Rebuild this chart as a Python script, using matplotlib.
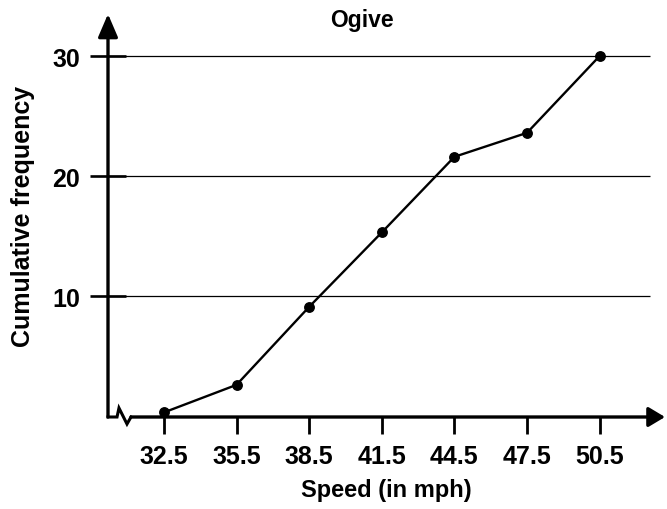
import matplotlib
matplotlib.use("Agg")
import matplotlib.pyplot as plt

speeds = [32.5, 35.5, 38.5, 41.5, 44.5, 47.5, 50.5]
cum_freq = [0.3, 2.6, 9.1, 15.3, 21.6, 23.6, 30]
y_ticks = [10, 20, 30]
x_tick_labels = ["32.5", "35.5", "38.5", "41.5", "44.5", "47.5", "50.5"]

plt.rcParams['font.family'] = ['Liberation Sans', 'DejaVu Sans']
plt.rcParams['font.weight'] = 'bold'

fig = plt.figure(figsize=(6.67, 5.10), dpi=100)
ax = fig.add_axes([108/667, 1-418/510, 557/667, 403/510])
ax.set_xlim(30.19, 53.2)
ax.set_ylim(-0.08, 33.5)
for s in ax.spines.values():
    s.set_visible(False)

# gridlines
ax.hlines(y_ticks, 30.19, 52.6, color='black', lw=0.9, zorder=1)

# y axis with arrow
ax.annotate('', xy=(0, 1), xytext=(0, 0), xycoords='axes fraction',
            textcoords='axes fraction',
            arrowprops=dict(arrowstyle='-|>,head_length=0.7,head_width=0.3', lw=2.4,
                            color='black', mutation_scale=20, shrinkA=0, shrinkB=0),
            annotation_clip=False)
# x axis with break zigzag and arrow
zx = [0, 0.0162, 0.0197, 0.0341, 0.0413]
zy = [0, 0, 0.0223, -0.0174, 0]
ax.plot(zx, zy, color='black', lw=2.2, transform=ax.transAxes, clip_on=False,
        solid_joinstyle='miter')
ax.annotate('', xy=(1, 0), xytext=(0.0413, 0), xycoords='axes fraction',
            textcoords='axes fraction',
            arrowprops=dict(arrowstyle='-|>,head_length=0.5,head_width=0.3', lw=2.4,
                            color='black', mutation_scale=20, shrinkA=0, shrinkB=0),
            annotation_clip=False)

ax.plot(speeds, cum_freq, color='black', lw=1.7, marker='o', markersize=6.8, zorder=3,
        clip_on=False)

ax.set_xticks(speeds)
ax.set_xticklabels(x_tick_labels)
ax.set_yticks(y_ticks)
ax.set_yticklabels([str(v) for v in y_ticks])
ax.tick_params(axis='x', direction='out', length=12.5, width=2, pad=7, labelsize=18)
ax.tick_params(axis='y', direction='inout', length=26.5, width=1.9, pad=7, labelsize=18)

ax.set_xlabel('Speed (in mph)', fontsize=17, fontweight='bold', labelpad=7)
ax.set_ylabel('Cumulative frequency', fontsize=18, fontweight='bold', labelpad=12)
fig.text(362/667, 1-20/510, 'Ogive', ha='center', va='center', fontsize=16.5,
         fontweight='bold')

fig.savefig('out.png', dpi=100)
